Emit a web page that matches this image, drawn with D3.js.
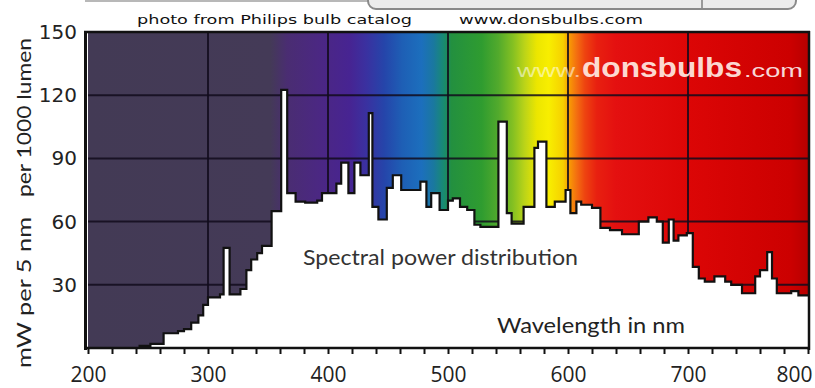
<!DOCTYPE html>
<html>
<head>
<meta charset="utf-8">
<script src="https://cdn.jsdelivr.net/npm/d3@7.9.0/dist/d3.min.js"></script>
<style>
  body { margin: 0; background: #fff; }
  svg { display: block; }
</style>
</head>
<body>
<svg id="chart" width="815" height="388"></svg>
<script>
// Spectral power distribution.
// Each value holds from its start wavelength up to the next one.
const stepStart = [200, 243, 252, 263, 275, 280, 286, 292, 296, 300, 310, 313, 318, 327, 332, 336, 341, 345, 353, 361,
  366, 373, 381, 391, 395, 407, 411, 417, 422, 427, 434, 437, 442, 449, 454, 461, 477, 482, 486, 493,
  500, 504, 510, 516, 522, 527, 542, 549, 553, 563, 572, 575, 582, 589, 598, 602, 607, 611, 620, 627,
  635, 645, 659, 667, 674, 679, 684, 688, 692, 699, 704, 709, 714, 722, 731, 736, 745, 756, 760, 766,
  770, 774, 786, 792];
const power = [0, 1, 2, 7, 8, 9, 12, 15.5, 20.5, 24, 25.5, 47.5, 25.5, 28, 37, 42, 45, 48.5, 65, 122.5,
  73.5, 69.5, 69, 70, 73.5, 78, 88, 73.5, 88, 82, 111.5, 67, 61, 76, 82, 75, 79, 67, 73.5, 65.5,
  70, 71, 67, 65.5, 58.5, 57.5, 107.5, 64, 59, 67, 95, 98, 67, 69.5, 75, 64, 69.5, 68, 66.5, 57,
  56, 54, 60, 62, 60, 50, 61, 51, 53.5, 54.5, 38.5, 33, 31.5, 34, 31.5, 30, 26, 34, 37, 45.5,
  33, 26, 27, 25];

const xTicks = [200, 300, 400, 500, 600, 700, 800];
const xMinorTicks = d3.range(200, 801, 20);
const yTicks = [30, 60, 90, 120, 150];

// background colour bands of the visible spectrum
const bandColors = [
  [200, '#433a55'], [352, '#443a57'], [366, '#4a2d72'], [395, '#4b2784'], [418, '#472492'],
  [432, '#3a31a0'], [447, '#2545aa'], [462, '#1e5fb5'], [478, '#1c6fbd'], [488, '#1a789f'],
  [496, '#188a74'], [503, '#23903f'], [528, '#2f9c30'], [542, '#52aa2c'], [554, '#84c022'],
  [564, '#bcd418'], [574, '#ece600'], [584, '#f8ee00'], [596, '#f6d000'], [601, '#f89a04'],
  [607, '#f47010'], [614, '#ee4410'], [624, '#e82010'], [640, '#e41010'], [700, '#dc0606'],
  [785, '#cc0000'], [800, '#b80000']
];

const svg = d3.select('#chart');
const x = d3.scaleLinear().domain([200, 800]).range([88, 808]);
const y = d3.scaleLinear().domain([0, 150]).range([348, 32]);

// gradient for the plot background
const grad = svg.append('defs').append('linearGradient')
  .attr('id', 'spectrum')
  .attr('gradientUnits', 'userSpaceOnUse')
  .attr('x1', x(200)).attr('x2', x(800))
  .attr('y1', 0).attr('y2', 0);
grad.selectAll('stop').data(bandColors).join('stop')
  .attr('offset', d => (d[0] - 200) / 600)
  .attr('stop-color', d => d[1]);

// grey edge of the bulb photo at the very top
svg.append('rect').attr('x', 85).attr('y', -2).attr('width', 290).attr('height', 4)
  .attr('fill', '#b8b8b8');
svg.append('rect').attr('x', 368).attr('y', -16).attr('width', 428).attr('height', 25)
  .attr('rx', 8).attr('fill', '#ececec').attr('stroke', '#8a8a8a').attr('stroke-width', 2);
svg.append('line').attr('x1', 702).attr('x2', 702).attr('y1', 0).attr('y2', 8)
  .attr('stroke', '#9a9a9a').attr('stroke-width', 2);

// top caption
svg.append('text').attr('x', 137).attr('y', 24)
  .attr('textLength', 275).attr('lengthAdjust', 'spacingAndGlyphs')
  .style('font', '13px "DejaVu Sans", Verdana, sans-serif').attr('fill', '#111')
  .text('photo from Philips bulb catalog');
svg.append('text').attr('x', 459).attr('y', 24)
  .attr('textLength', 184).attr('lengthAdjust', 'spacingAndGlyphs')
  .style('font', '13px "DejaVu Sans", Verdana, sans-serif').attr('fill', '#111')
  .text('www.donsbulbs.com');

// plot background
svg.append('rect')
  .attr('x', x(200)).attr('y', y(150))
  .attr('width', x(800) - x(200)).attr('height', y(0) - y(150))
  .attr('fill', 'url(#spectrum)');

// grid
svg.append('g').selectAll('line').data(xTicks.slice(1, -1)).join('line')
  .attr('x1', d => x(d)).attr('x2', d => x(d))
  .attr('y1', y(150)).attr('y2', y(0))
  .attr('stroke', '#120c1c').attr('stroke-width', 2).attr('stroke-opacity', 0.85);
svg.append('g').selectAll('line').data(yTicks.slice(0, -1)).join('line')
  .attr('x1', x(200)).attr('x2', x(800))
  .attr('y1', d => y(d)).attr('y2', d => y(d))
  .attr('stroke', '#120c1c').attr('stroke-width', 2).attr('stroke-opacity', 0.85);

// watermark
const wm = svg.append('g');
wm.append('text').attr('x', 517).attr('y', 77)
  .attr('textLength', 64).attr('lengthAdjust', 'spacingAndGlyphs')
  .style('font', '19px "Liberation Sans", Arial, sans-serif')
  .attr('fill', '#fff').attr('fill-opacity', 0.55).text('www.');
wm.append('text').attr('x', 582).attr('y', 77)
  .attr('textLength', 160).attr('lengthAdjust', 'spacingAndGlyphs')
  .style('font', 'bold 27px "Liberation Sans", Arial, sans-serif')
  .attr('fill', '#ffeee6').attr('fill-opacity', 0.92).text('donsbulbs');
wm.append('text').attr('x', 744).attr('y', 77)
  .attr('textLength', 59).attr('lengthAdjust', 'spacingAndGlyphs')
  .style('font', '19px "Liberation Sans", Arial, sans-serif')
  .attr('fill', '#fff').attr('fill-opacity', 0.85).text('.com');

// spectrum as a step area
const pts = stepStart.map((nm, i) => ({ nm, p: power[i] }));
pts.push({ nm: 800, p: power[power.length - 1] });

svg.append('path').datum(pts)
  .attr('d', d3.area().curve(d3.curveStepAfter)
    .x(d => x(d.nm)).y0(y(0)).y1(d => y(d.p)))
  .attr('fill', '#fff');
svg.append('path').datum(pts)
  .attr('d', d3.line().curve(d3.curveStepAfter)
    .x(d => x(d.nm)).y(d => y(d.p)))
  .attr('fill', 'none').attr('stroke', '#111').attr('stroke-width', 2.2);

// frame
const frame = svg.append('g').attr('stroke', '#111');
frame.append('line').attr('x1', 85.5).attr('x2', 85.5).attr('y1', 31).attr('y2', 350).attr('stroke-width', 3);
frame.append('line').attr('x1', 84).attr('x2', 810).attr('y1', 32).attr('y2', 32).attr('stroke-width', 2.5);
frame.append('line').attr('x1', 809).attr('x2', 809).attr('y1', 31).attr('y2', 350).attr('stroke-width', 2.5);

// x axis
const xAxis = svg.append('g').attr('transform', `translate(0,${y(0)})`)
  .call(d3.axisBottom(x).tickValues(xMinorTicks)
    .tickFormat(d => (d % 100 === 0 ? d : ''))
    .tickSizeInner(6).tickSizeOuter(0).tickPadding(13));
xAxis.select('.domain').attr('stroke', '#111').attr('stroke-width', 2.5)
  .attr('d', `M84,0H810`);
xAxis.selectAll('.tick line').attr('stroke', '#111').attr('stroke-width', 2);
xAxis.selectAll('.tick text')
  .style('font', '21px "Open Sans", sans-serif').attr('fill', '#222');
xAxis.selectAll('.tick').filter(d => d === 800).select('text')
  .attr('text-anchor', 'end').attr('x', 4);

// y axis labels
const yAxis = svg.append('g').attr('transform', 'translate(85,0)')
  .call(d3.axisLeft(y).tickValues(yTicks).tickSize(0).tickPadding(8));
yAxis.select('.domain').remove();
yAxis.selectAll('.tick text')
  .style('font', '20px "DejaVu Sans", sans-serif').attr('fill', '#222');

// y title (two parts)
svg.append('text')
  .attr('transform', 'translate(31,292.5) rotate(-90)')
  .attr('text-anchor', 'middle').attr('textLength', 151).attr('lengthAdjust', 'spacingAndGlyphs')
  .style('font', '20px Lato, sans-serif').attr('fill', '#222')
  .text('mW per 5 nm');
svg.append('text')
  .attr('transform', 'translate(31,117.5) rotate(-90)')
  .attr('text-anchor', 'middle').attr('textLength', 159).attr('lengthAdjust', 'spacingAndGlyphs')
  .style('font', '20px Lato, sans-serif').attr('fill', '#222')
  .text('per 1000 lumen');

// inner labels
svg.append('text').attr('x', 303).attr('y', 265)
  .attr('textLength', 275).attr('lengthAdjust', 'spacingAndGlyphs')
  .style('font', '21px Lato, sans-serif').attr('fill', '#333')
  .text('Spectral power distribution');
svg.append('text').attr('x', 497).attr('y', 333)
  .attr('textLength', 188).attr('lengthAdjust', 'spacingAndGlyphs')
  .style('font', '21px Lato, sans-serif').attr('fill', '#222')
  .text('Wavelength in nm');
</script>
</body>
</html>
